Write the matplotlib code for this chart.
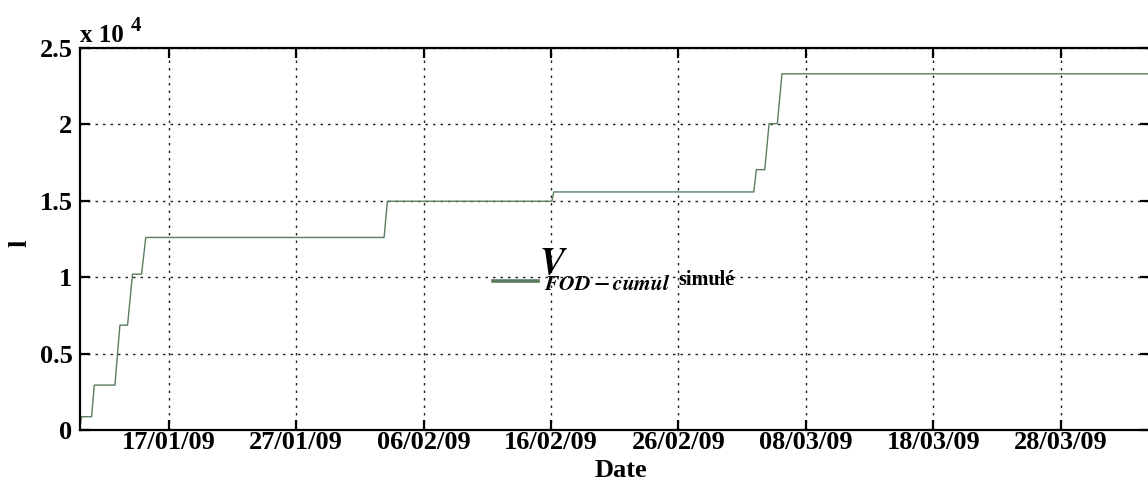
import datetime as dt

import matplotlib
matplotlib.use("Agg")
import matplotlib.pyplot as plt
import matplotlib.dates as mdates
from matplotlib.ticker import FuncFormatter

# ---- data -------------------------------------------------------------
START = dt.datetime(2009, 1, 10)          # left edge of the axis
END = dt.datetime(2009, 4, 4)             # right edge of the axis

# cumulative simulated volume V_FOD-cumul (l), time in days after START
t_days = [0.0, 0.16, 0.95, 1.16, 2.78, 3.17, 3.77, 4.16, 4.87, 5.20,
          23.90, 24.16, 37.07, 37.21, 52.91, 53.11, 53.77, 54.11, 54.76, 55.12,
          85.0]
volume = [0, 870, 870, 2940, 2940, 6860, 6860, 10200, 10200, 12600,
          12600, 14970, 14970, 15580, 15580, 17040, 17040, 20050, 20050, 23310,
          23310]

tick_labels = ["17/01/09", "27/01/09", "06/02/09", "16/02/09",
               "26/02/09", "08/03/09", "18/03/09", "28/03/09"]
y_ticks = [0, 5000, 10000, 15000, 20000, 25000]
# -----------------------------------------------------------------------

plt.rcParams["font.family"] = ["Liberation Serif", "DejaVu Serif"]
plt.rcParams["font.weight"] = "bold"
plt.rcParams["mathtext.fontset"] = "stix"

LINE_C = "#5a7d60"
FS = 19
W, H = 1148, 480

times = [START + dt.timedelta(days=d) for d in t_days]
ticks = [dt.datetime.strptime(s, "%d/%m/%y") for s in tick_labels]

fig = plt.figure(figsize=(W / 100, H / 100), dpi=100)
ax = fig.add_axes([79.5 / W, 1 - 430 / H, (1150 - 79.5) / W, (430 - 48) / H])

line, = ax.plot(times, volume, color=LINE_C, lw=1.0)

ax.set_xlim(START, END)
ax.set_ylim(0, 25000)
ax.set_xticks(ticks)
ax.xaxis.set_major_formatter(mdates.DateFormatter("%d/%m/%y"))
ax.set_yticks(y_ticks)
ax.yaxis.set_major_formatter(FuncFormatter(lambda v, p: f"{v / 1e4:g}"))

ax.grid(True, color="#222222", lw=1.0, linestyle=(0, (1.8, 3.6)))
for sp in ax.spines.values():
    sp.set_linewidth(1.6)
ax.tick_params(direction="in", length=7.2, width=1.6, top=True, right=True,
               labelsize=FS)
ax.tick_params(axis="x", pad=0.5)
ax.tick_params(axis="y", pad=5)

ax.set_xlabel("Date", fontsize=FS, fontweight="bold")
ax.xaxis.set_label_coords(0.506, -0.076)
ax.set_ylabel("l", fontsize=FS, fontweight="bold")
ax.yaxis.set_label_coords(-0.045, 0.49)

# MATLAB-style exponent above the y axis
fig.text(80 / W, 1 - 42 / H, "x 10", fontsize=18, fontweight="bold",
         va="baseline", ha="left")
fig.text(131 / W, 1 - 31 / H, "4", fontsize=15, fontweight="bold",
         va="baseline", ha="left")

# legend sample line; its label is written next to it with mixed sizes
leg = ax.legend(handles=[line], labels=[""], loc="center left",
                bbox_to_anchor=((493 - 79.5) / 1070.5, (430 - 283) / 382),
                frameon=False, fontsize=14, handlelength=2.3, handletextpad=0,
                borderpad=0, borderaxespad=0)
hline = leg.legend_handles[0]
hline.set_linewidth(2.6)

fig.canvas.draw()
r = fig.canvas.get_renderer()
hb = hline.get_window_extent(r)
x_end = hb.x1

fig.text((x_end + 1) / W, 1 - 274 / H, r"$V$", fontsize=27,
         va="baseline", ha="left")
sub = fig.text((x_end + 6) / W, 1 - 290 / H, r"$FOD-cumul$", fontsize=15.5,
               va="baseline", ha="left")
fig.canvas.draw()
sb = sub.get_window_extent(r)
fig.text((sb.x1 + 8) / W, 1 - 285 / H, "simulé", fontsize=14.5,
         fontweight="bold", va="baseline", ha="left")

fig.savefig("out.png", dpi=100)
